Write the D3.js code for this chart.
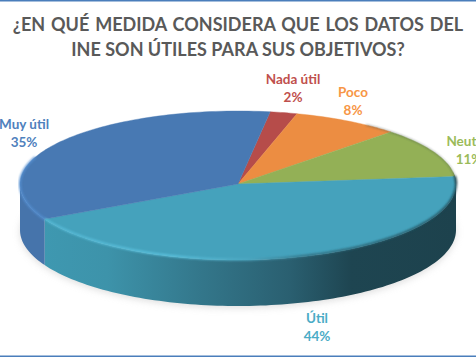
<!DOCTYPE html>
<html>
<head>
<meta charset="utf-8">
<script src="https://cdn.jsdelivr.net/npm/d3@7/dist/d3.min.js"></script>
<style>
  html, body { margin: 0; padding: 0; background: #fff; overflow: hidden; }
  text { font-family: Lato, "Open Sans", sans-serif; font-weight: 700; }
</style>
</head>
<body>
<div id="chart"></div>
<script>
// Data
const categories = ['Nada útil', 'Poco', 'Neutral', 'Útil', 'Muy útil'];
const values = [2, 8, 11, 44, 35];
const colors = ['#b64c4a', '#ec8d42', '#93b056', '#45a2bc', '#4879b3'];
const labelColors = ['#bf504d', '#f79646', '#9bbb59', '#4bacc6', '#4f81bd'];
const titleLines = ['¿EN QUÉ MEDIDA CONSIDERA QUE LOS DATOS DEL', 'INE SON ÚTILES PARA SUS OBJETIVOS?'];

// Chart dimensions
const width = 476;
const height = 357;
const cx = 238;
const cy = 184;
const rx = 218;
const ryBack = 73;   // the far half looks flatter than the near half
const ryFront = 76;
const depth = 46;
const startDeg = 8.5;

const svg = d3.select('#chart').append('svg')
    .attr('width', width)
    .attr('height', height)
    .style('display', 'block');

const defs = svg.append('defs');

defs.append('filter').attr('id', 'ground-blur')
    .attr('x', '-10%').attr('y', '-20%').attr('width', '120%').attr('height', '140%')
    .append('feGaussianBlur').attr('stdDeviation', 3.5);

defs.append('filter').attr('id', 'rim-blur')
    .attr('x', '-5%').attr('y', '-20%').attr('width', '110%').attr('height', '140%')
    .append('feGaussianBlur').attr('stdDeviation', 1);

// Side wall shading, one gradient per slice that shows at the front
function addGradient(id, stops) {
    const g = defs.append('linearGradient').attr('id', id)
        .attr('gradientUnits', 'userSpaceOnUse')
        .attr('x1', cx - rx).attr('x2', cx + rx).attr('y1', 0).attr('y2', 0);
    stops.forEach(s => g.append('stop').attr('offset', s[0]).attr('stop-color', s[1]));
}
addGradient('side-util', [[0, '#3f9ab3'], [0.2, '#3d93aa'], [0.42, '#33768a'], [0.62, '#2a5f70'], [0.76, '#1e4551'], [1, '#1d424d']]);
addGradient('side-muy', [[0, '#4674ab'], [1, '#4674ab']]);
addGradient('rim-util', [[0, '#57b9d6'], [0.35, '#5cc4e0'], [0.52, '#4fa9c3'], [0.66, '#2f6b7c'], [1, '#1f4753']]);

// Border lines
svg.append('rect').attr('x', 0).attr('y', 0).attr('width', width).attr('height', 1.5).attr('fill', '#4a7ebb');
svg.append('rect').attr('x', 0).attr('y', height - 1.5).attr('width', width).attr('height', 1.5).attr('fill', '#4a7ebb');

// Title
svg.selectAll('.title-line')
    .data(titleLines)
    .join('text')
    .attr('class', 'title-line')
    .attr('x', width / 2)
    .attr('y', (d, i) => 31 + i * 25)
    .attr('text-anchor', 'middle')
    .attr('font-size', 18)
    .attr('fill', '#595959')
    .style('word-spacing', (d, i) => i === 0 ? '1.5px' : '0px')
    .text(d => d);

// Pie angles
const pie = d3.pie()
    .sort(null)
    .startAngle(startDeg * Math.PI / 180)
    .endAngle((startDeg + 360) * Math.PI / 180);
const slices = pie(values);

const ex = a => cx + rx * Math.sin(a);
const ey = a => {
    const c = Math.cos(a);
    return cy - (c > 0 ? ryBack : ryFront) * c;
};

// Arc sampled along the flattened circle, shifted down by dy
function ellipsePoints(a0, a1, dy) {
    const n = Math.max(8, Math.ceil((a1 > a0 ? a1 - a0 : a0 - a1) * 40));
    return d3.range(0, n + 1).map(i => {
        const a = a0 + (a1 - a0) * i / n;
        return [ex(a), ey(a) + dy];
    });
}
const line = d3.line();

// Ground shadow
svg.append('path')
    .attr('d', line(ellipsePoints(0, Math.PI * 2, depth + 2)) + 'Z')
    .attr('fill', '#c4c4c4')
    .attr('opacity', 0.55)
    .attr('filter', 'url(#ground-blur)');

// Side walls (only the front half of the disc is seen)
const frontStart = Math.PI / 2;
const frontEnd = Math.PI * 1.5;
const sideFill = { 'Útil': 'url(#side-util)', 'Muy útil': 'url(#side-muy)' };

slices.forEach((s, i) => {
    const a0 = Math.max(s.startAngle, frontStart);
    const a1 = Math.min(s.endAngle, frontEnd);
    if (a1 <= a0) return;
    const pts = ellipsePoints(a0, a1, 0).concat(ellipsePoints(a1, a0, depth));
    svg.append('path')
        .attr('d', line(pts) + 'Z')
        .attr('fill', sideFill[categories[i]] || '#1d424d');
});

// The neutral slice ends just before the right edge, so the wall there stays dark
svg.append('path')
    .attr('d', line(ellipsePoints(slices[2].endAngle - 0.06, frontStart, 0)
        .concat(ellipsePoints(frontStart, slices[2].endAngle - 0.06, depth))) + 'Z')
    .attr('fill', '#1d424d');

// Top face
svg.selectAll('.slice')
    .data(slices)
    .join('path')
    .attr('class', 'slice')
    .attr('d', d => line([[cx, cy]].concat(ellipsePoints(d.startAngle, d.endAngle, 0))) + 'Z')
    .attr('fill', (d, i) => colors[i])
    .attr('stroke', (d, i) => colors[i])
    .attr('stroke-width', 0.4);

// Bevel along the rim: light on the left, dark on the right
svg.append('path')
    .attr('d', line(ellipsePoints(slices[3].startAngle, slices[3].endAngle, -0.5)))
    .attr('fill', 'none')
    .attr('stroke', 'url(#rim-util)')
    .attr('stroke-width', 2)
    .attr('filter', 'url(#rim-blur)');

svg.append('path')
    .attr('d', line(ellipsePoints(slices[4].startAngle, Math.PI * 1.62, 0)))
    .attr('fill', 'none')
    .attr('stroke', '#5590d2')
    .attr('stroke-width', 2)
    .attr('filter', 'url(#rim-blur)');

// Dark edge at the right of the rim
svg.append('path')
    .attr('d', line(ellipsePoints(Math.PI * 0.2, Math.PI * 0.5, 0)))
    .attr('fill', 'none')
    .attr('stroke', '#3b4a45')
    .attr('stroke-width', 1)
    .attr('opacity', 0.7)
    .attr('filter', 'url(#rim-blur)');

// Labels, placed by hand next to each slice
const labelX = [293, 353, 469, 317, 24];
const labelY = [84, 97, 146, 323, 129];

categories.forEach((name, i) => {
    const label = svg.append('text')
        .attr('text-anchor', 'middle')
        .attr('font-size', 13.5)
        .attr('fill', labelColors[i]);
    label.append('tspan').attr('x', labelX[i]).attr('y', labelY[i]).text(name);
    label.append('tspan').attr('x', labelX[i]).attr('y', labelY[i] + 18).text(values[i] + '%');
});
</script>
</body>
</html>
